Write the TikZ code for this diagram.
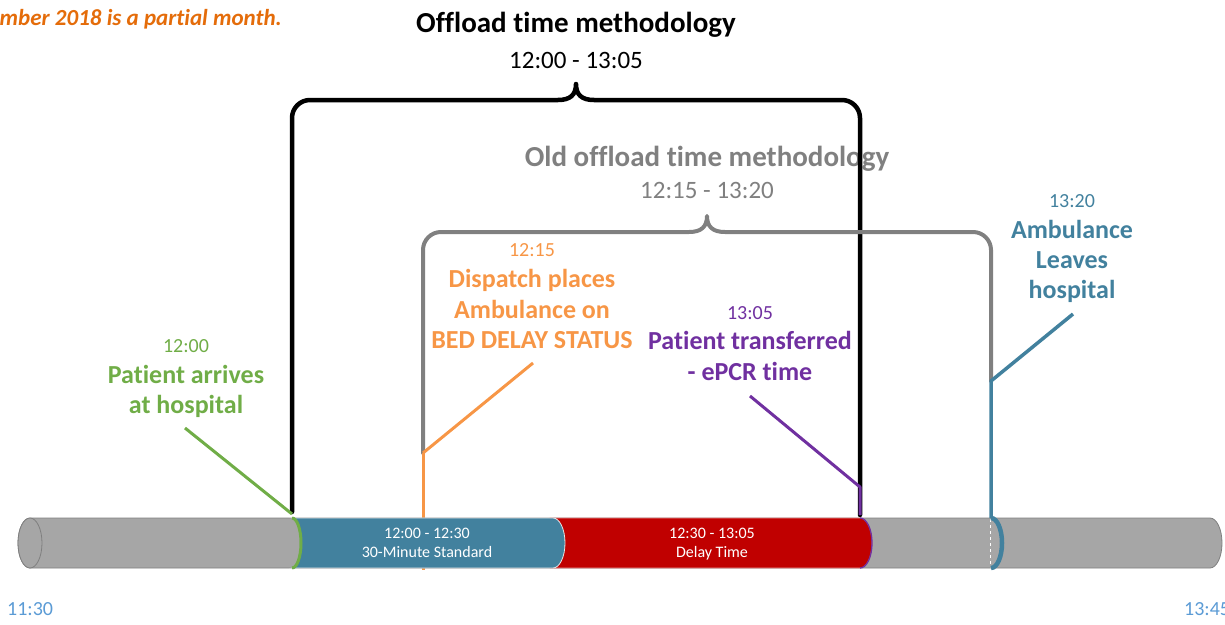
\documentclass[tikz,border=0pt]{standalone}
\usepackage{fontspec}
\setmainfont{Carlito}[Ligatures=NoCommon]
\definecolor{barblue}{RGB}{66,129,158}
\definecolor{bargray}{RGB}{166,166,166}
\definecolor{edgegray}{RGB}{127,127,127}
\definecolor{brgray}{RGB}{128,128,128}
\definecolor{barred}{RGB}{192,0,0}
\definecolor{lgreen}{RGB}{112,173,71}
\definecolor{lorange}{RGB}{247,150,70}
\definecolor{dorange}{RGB}{228,108,10}
\definecolor{lpurple}{RGB}{112,48,160}
\definecolor{axblue}{RGB}{91,155,213}
\begin{document}
\begin{tikzpicture}[x=1pt,y=-1pt,
  lbl/.style={anchor=base,inner sep=0pt,font=\fontsize{26}{30}\selectfont\bfseries},
  tm/.style={anchor=base,inner sep=0pt,font=\fontsize{20}{24}\selectfont},
  ttl/.style={anchor=base,inner sep=0pt,font=\fontsize{29}{34}\selectfont\bfseries},
  sub/.style={anchor=base,inner sep=0pt,font=\fontsize{25}{30}\selectfont},
  bartxt/.style={anchor=base,inner sep=0pt,text=white,font=\fontsize{16}{19}\selectfont},
  brace/.style={line width=4.5pt,line join=round,line cap=round},
  leader/.style={line width=3pt,line join=round}]
\useasboundingbox (0,0) rectangle (1225,624);

% note
\node[anchor=base east,inner sep=0pt,text=dorange,font=\fontsize{23}{27}\selectfont\bfseries\itshape] (note) at (282,25) {mber 2018 is a partial month.};

% titles
\node[ttl] (t1) at (576,32) {Offload time methodology};
\node[sub] (t1s) at (576,68) {12:00 - 13:05};
\node[ttl,text=brgray] (t2) at (707,166) {Old offload time methodology};
\node[sub,text=brgray] (t2s) at (707,198) {12:15 - 13:20};

% brace coordinates
\coordinate (bkL) at (292,512);
\coordinate (bkR) at (860,515);
\coordinate (grL) at (423,453);
\coordinate (grR) at (991,381);

% black brace
\draw[brace,black] (bkL) -- (292,118) arc[start angle=180,end angle=270,radius=18]
  -- (558,100) .. controls (570,100) and (576,95) .. (576,84)
  .. controls (576,95) and (582,100) .. (594,100)
  -- (842,100) arc[start angle=270,end angle=360,radius=18] -- (bkR);
% gray brace
\draw[brace,brgray,line width=4pt] (grL) -- (423,250) arc[start angle=180,end angle=270,radius=18]
  -- (689,232) .. controls (701,232) and (707,227) .. (707,216)
  .. controls (707,227) and (713,232) .. (725,232)
  -- (973,232) arc[start angle=270,end angle=360,radius=18] -- (grR);

% orange vertical behind bar
\coordinate (orB) at (423,570);
\draw[leader,lorange] (grL) -- (orB);

% base cylinder
\draw[fill=bargray,draw=edgegray,line width=0.8pt] (30,518) -- (1210,518)
  arc[start angle=-90,end angle=90,x radius=12,y radius=25] -- (30,568)
  arc[start angle=90,end angle=270,x radius=12,y radius=25] -- cycle;
\draw[fill=bargray,draw=edgegray,line width=0.8pt] (30,543) ellipse[x radius=12,y radius=25];

% red segment
\draw[fill=barred,draw=barred!40!white,line width=0.6pt] (550,518) -- (860,518)
  arc[start angle=-90,end angle=90,x radius=12,y radius=25] -- (550,568) -- cycle;
% blue segment
\draw[fill=barblue,draw=white!80!gray,line width=0.8pt] (292,518) -- (553,518)
  arc[start angle=-90,end angle=90,x radius=12,y radius=25] -- (292,568)
  arc[start angle=90,end angle=-90,x radius=9,y radius=25] -- cycle;

% bar texts
\node[bartxt] (b1) at (427,538) {12:00 - 12:30};
\node[bartxt] (b2) at (427,557) {30-Minute Standard};
\node[bartxt] (r1) at (712,538) {12:30 - 13:05};
\node[bartxt] (r2) at (712,557) {Delay Time};

% white dashed line
\coordinate (dT) at (990,519);
\coordinate (dB) at (990,567);
\draw[white,dashed,line width=1pt] (dT) -- (dB);

% marks on the bar
\draw[lgreen,line width=3pt] (292,518) arc[start angle=-90,end angle=90,x radius=9,y radius=25];
\draw[lpurple,line width=1.3pt] (860,518) arc[start angle=-90,end angle=90,x radius=12,y radius=25];
\draw[barblue,line width=4.5pt] (991,518) arc[start angle=-90,end angle=90,x radius=11,y radius=25];

% green label
\node[tm,text=lgreen] (g0) at (186,352) {12:00};
\node[lbl,text=lgreen] (g1) at (186,383) {Patient arrives};
\node[lbl,text=lgreen] (g2) at (186,413) {at hospital};
\coordinate (gA) at (185,428);
\coordinate (gB) at (292,514);
\draw[leader,lgreen] (gA) -- (gB);

% orange label
\node[tm,text=lorange] (o0) at (532,256) {12:15};
\node[lbl,text=lorange] (o1) at (532,287) {Dispatch places};
\node[lbl,text=lorange] (o2) at (532,318) {Ambulance on};
\node[lbl,text=lorange] (o3) at (532,348) {BED DELAY STATUS};
\coordinate (oA) at (533,363);
\draw[leader,lorange] (oA) -- (grL);

% purple label
\node[tm,text=lpurple] (p0) at (750,319) {13:05};
\node[lbl,text=lpurple] (p1) at (750,349) {Patient transferred};
\node[lbl,text=lpurple] (p2) at (750,380) {- ePCR time};
\coordinate (pA) at (750,396);
\coordinate (pB) at (860,487);
\draw[leader,lpurple] (pA) -- (pB) -- (bkR);

% teal label
\node[tm,text=barblue] (a0) at (1072,207) {13:20};
\node[lbl,text=barblue] (a1) at (1072,238) {Ambulance};
\node[lbl,text=barblue] (a2) at (1072,268) {Leaves};
\node[lbl,text=barblue] (a3) at (1072,298) {hospital};
\coordinate (aA) at (1073,314);
\coordinate (aB) at (991,518);
\draw[leader,barblue,line width=3.5pt] (aA) -- (grR) -- (aB);

% axis labels
\node[tm,anchor=base west,text=axblue] (x0) at (7,615) {11:30};
\node[tm,anchor=base west,text=axblue] (x1) at (1184,615) {13:45};
\end{tikzpicture}
\end{document}
